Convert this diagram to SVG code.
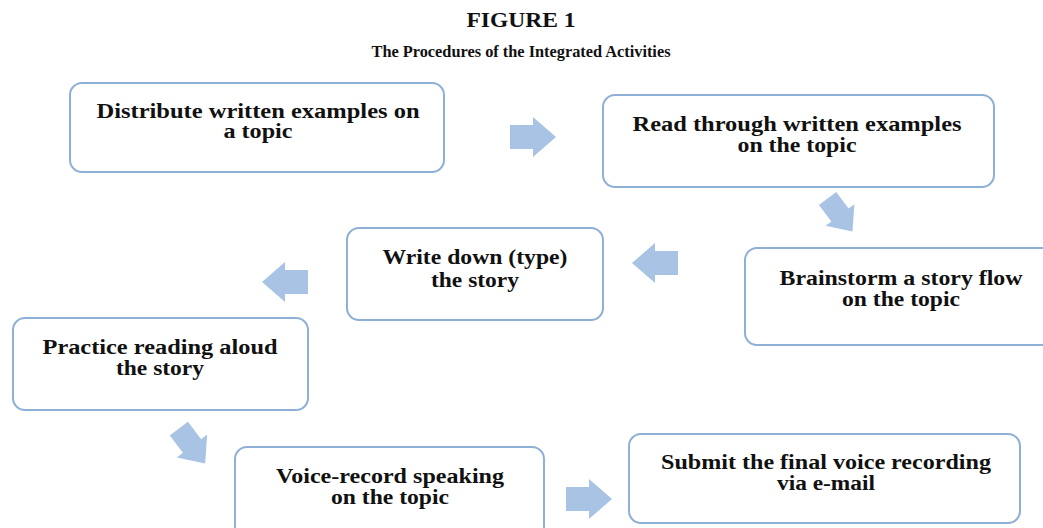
<svg xmlns="http://www.w3.org/2000/svg" width="1043" height="528" viewBox="0 0 1043 528">
<defs>
<style>
.box{fill:#ffffff;stroke:#8eafd6;stroke-width:2}
.t{font-family:"Liberation Serif","Times New Roman",serif;font-weight:bold;font-size:20px;fill:#111;text-anchor:middle}
.title{font-family:"Liberation Serif","Times New Roman",serif;font-weight:bold;fill:#111;text-anchor:middle}
.arr{fill:#a9c3e4}
</style>
<path id="arrow" d="M-23,-12 H0 V-20 L23,0 L0,20 V12 H-23 Z"/>
</defs>
<rect width="1043" height="528" fill="#ffffff"/>
<text class="title" x="521" y="27" font-size="20" textLength="109" lengthAdjust="spacingAndGlyphs">FIGURE 1</text>
<text class="title" x="521" y="57" font-size="16" textLength="299" lengthAdjust="spacingAndGlyphs">The Procedures of the Integrated Activities</text>

<g id="connectors">
<use href="#arrow" class="arr" transform="translate(533,137)"/>
<use href="#arrow" class="arr" transform="translate(840,215) rotate(53) scale(0.9)"/>
<use href="#arrow" class="arr" transform="translate(655,263) rotate(180)"/>
<use href="#arrow" class="arr" transform="translate(285,282) rotate(180)"/>
<use href="#arrow" class="arr" transform="translate(192,446) rotate(53) scale(0.95)"/>
<use href="#arrow" class="arr" transform="translate(589,499)"/>
</g>

<g id="n1">
<rect class="box" x="70" y="83" width="374" height="89" rx="12"/>
<text class="t" x="258" y="118" textLength="323" lengthAdjust="spacingAndGlyphs">Distribute written examples on</text>
<text class="t" x="258" y="138" textLength="69" lengthAdjust="spacingAndGlyphs">a topic</text>
</g>
<g id="n2">
<rect class="box" x="603" y="95" width="391" height="92" rx="12"/>
<text class="t" x="797" y="131" textLength="329" lengthAdjust="spacingAndGlyphs">Read through written examples</text>
<text class="t" x="797" y="152" textLength="119" lengthAdjust="spacingAndGlyphs">on the topic</text>
</g>
<g id="n3">
<rect class="box" x="745" y="248" width="310" height="97" rx="12"/>
<text class="t" x="901" y="285" textLength="243" lengthAdjust="spacingAndGlyphs">Brainstorm a story flow</text>
<text class="t" x="901" y="306" textLength="118" lengthAdjust="spacingAndGlyphs">on the topic</text>
</g>
<g id="n4">
<rect class="box" x="347" y="228" width="256" height="92" rx="12"/>
<text class="t" x="475" y="264" textLength="185" lengthAdjust="spacingAndGlyphs">Write down (type)</text>
<text class="t" x="475" y="287" textLength="88" lengthAdjust="spacingAndGlyphs">the story</text>
</g>
<g id="n5">
<rect class="box" x="13" y="318" width="295" height="92" rx="12"/>
<text class="t" x="160" y="354" textLength="235" lengthAdjust="spacingAndGlyphs">Practice reading aloud</text>
<text class="t" x="160" y="375" textLength="88" lengthAdjust="spacingAndGlyphs">the story</text>
</g>
<g id="n6">
<rect class="box" x="235" y="447" width="309" height="100" rx="12"/>
<text class="t" x="390" y="483" textLength="228" lengthAdjust="spacingAndGlyphs">Voice-record speaking</text>
<text class="t" x="390" y="504" textLength="118" lengthAdjust="spacingAndGlyphs">on the topic</text>
</g>
<g id="n7">
<rect class="box" x="629" y="434" width="391" height="89" rx="12"/>
<text class="t" x="826" y="469" textLength="330" lengthAdjust="spacingAndGlyphs">Submit the final voice recording</text>
<text class="t" x="826" y="490" textLength="98" lengthAdjust="spacingAndGlyphs">via e-mail</text>
</g>
</svg>
